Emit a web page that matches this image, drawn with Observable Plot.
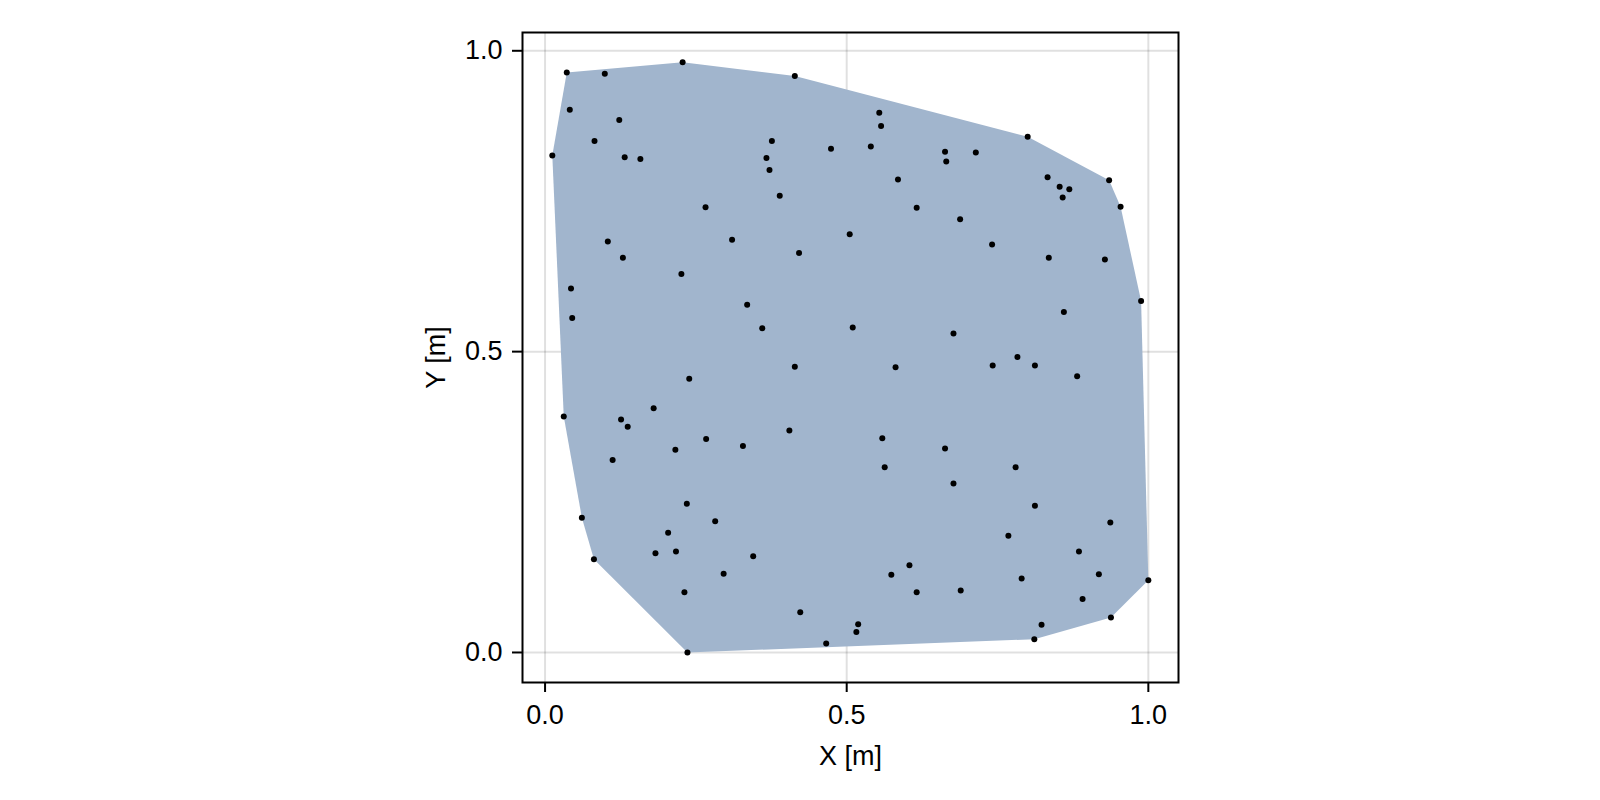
<!DOCTYPE html>
<html>
<head>
<meta charset="utf-8">
<script src="https://cdn.jsdelivr.net/npm/d3@7"></script>
<script src="https://cdn.jsdelivr.net/npm/@observablehq/plot@0.6"></script>
<style>
  html, body { margin: 0; padding: 0; background: white; }
  #chart { width: 1600px; height: 800px; }
  #chart svg text { font-size: 27px; font-family: 'Liberation Sans', Arial, sans-serif; }
</style>
</head>
<body>
<div id="chart"></div>
<script>
const xs = [0.036,0.099,0.228,0.414,0.041,0.123,0.082,0.012,0.132,0.158,
  0.376,0.367,0.372,0.474,0.389,0.266,0.104,0.310,0.505,0.421,
  0.129,0.226,0.043,0.045,0.335,0.360,0.510,0.414,0.554,0.557,
  0.540,0.663,0.665,0.714,0.800,0.585,0.616,0.688,0.833,0.853,
  0.869,0.858,0.935,0.954,0.741,0.835,0.928,0.988,0.860,0.677,
  0.783,0.581,0.742,0.812,0.882,0.239,0.180,0.031,0.126,0.137,
  0.405,0.267,0.328,0.216,0.112,0.235,0.282,0.061,0.204,0.183,
  0.217,0.081,0.345,0.296,0.231,0.423,0.466,0.236,0.516,0.519,
  0.559,0.563,0.663,0.677,0.780,0.812,0.768,0.937,0.885,0.918,
  1.000,0.604,0.574,0.616,0.689,0.790,0.891,0.938,0.823,0.811];
const ys = [0.964,0.962,0.981,0.958,0.902,0.885,0.850,0.826,0.823,0.820,
  0.850,0.822,0.802,0.837,0.759,0.740,0.683,0.686,0.695,0.664,
  0.656,0.629,0.605,0.556,0.578,0.539,0.540,0.475,0.897,0.875,
  0.841,0.832,0.816,0.831,0.857,0.786,0.739,0.720,0.790,0.774,
  0.770,0.756,0.785,0.741,0.678,0.656,0.653,0.584,0.566,0.530,
  0.491,0.474,0.477,0.477,0.459,0.455,0.406,0.392,0.387,0.375,
  0.369,0.355,0.343,0.337,0.320,0.247,0.218,0.224,0.199,0.165,
  0.168,0.155,0.160,0.131,0.100,0.067,0.015,0.000,0.034,0.047,
  0.356,0.308,0.339,0.281,0.308,0.244,0.194,0.216,0.168,0.130,
  0.120,0.145,0.129,0.100,0.103,0.123,0.089,0.058,0.046,0.022];
const tickValues = [0, 0.5, 1.0];
const tickLabels = ["0.0", "0.5", "1.0"];
const xLabel = "X [m]";
const yLabel = "Y [m]";

const points = xs.map((x, i) => ({x, y: ys[i]}));
const fmt = d => tickLabels[tickValues.indexOf(d)];

const chart = Plot.plot({
  width: 1600,
  height: 800,
  marginLeft: 522,
  marginRight: 422,
  marginTop: 32,
  marginBottom: 118,
  style: {fontFamily: "'Liberation Sans', Arial, sans-serif", fontSize: "27px", background: "white", color: "black"},
  x: {domain: [-0.0374, 1.050]},
  y: {domain: [-0.0499, 1.0304]},
  marks: [
    Plot.gridX(tickValues, {stroke: "#000", strokeOpacity: 0.12, strokeWidth: 2}),
    Plot.gridY(tickValues, {stroke: "#000", strokeOpacity: 0.12, strokeWidth: 2}),
    Plot.hull(points, {x: "x", y: "y", fill: "#a1b5cd", stroke: "none"}),
    Plot.dot(points, {x: "x", y: "y", r: 3, fill: "black", stroke: "none"}),
    Plot.frame({stroke: "black", strokeWidth: 2}),
    Plot.axisX(tickValues, {tickSize: 10, tickPadding: 12, tickFormat: fmt, fontSize: 27, strokeWidth: 2,
      label: xLabel, labelAnchor: "center", labelArrow: "none", labelOffset: 82}),
    Plot.axisY(tickValues, {tickSize: 10, tickPadding: 10, tickFormat: fmt, fontSize: 27, strokeWidth: 2,
      label: yLabel, labelAnchor: "center", labelArrow: "none", labelOffset: 97})
  ]
});
document.getElementById("chart").appendChild(chart);
</script>
</body>
</html>
